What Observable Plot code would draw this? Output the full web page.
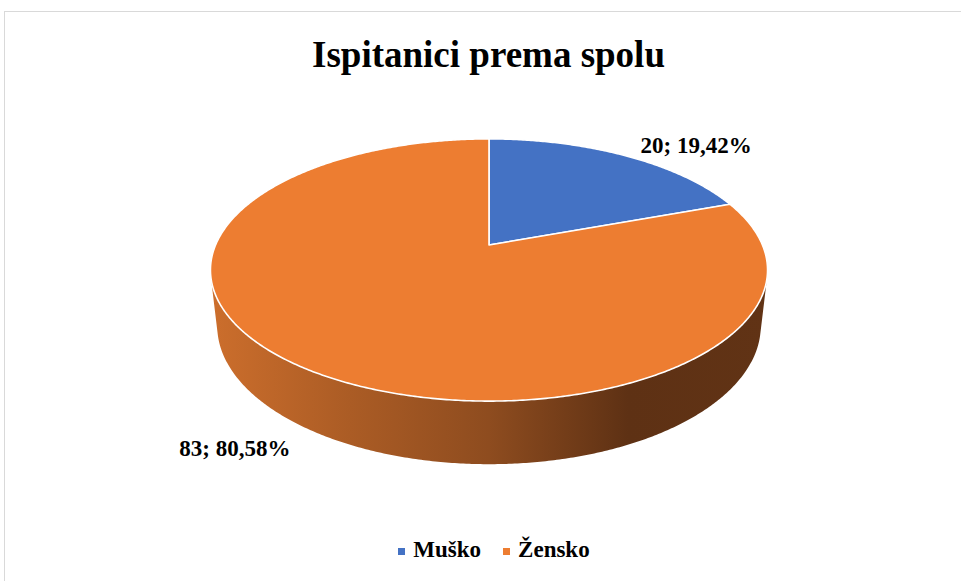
<!DOCTYPE html>
<html>
<head>
<meta charset="utf-8">
<script src="https://cdn.jsdelivr.net/npm/d3@7"></script>
<script src="https://cdn.jsdelivr.net/npm/@observablehq/plot@0.6"></script>
<style>
  body { margin: 0; background: #fff; font-family: "Liberation Serif", "Times New Roman", serif; }
  #wrap { position: relative; width: 961px; height: 581px; overflow: hidden; background: #fff; }
  #border { position: absolute; left: 4px; top: 11px; width: 1000px; height: 600px;
            border-left: 1.5px solid #d9d9d9; border-top: 1.5px solid #d9d9d9; box-sizing: border-box; }
  #chart { position: absolute; left: 0; top: 0; }
  #title { position: absolute; left: 0; width: 977px; top: 36px; text-align: center;
           font-weight: bold; font-size: 37px; line-height: 37px; color: #000; }
  #legend { position: absolute; left: 0; width: 988px; top: 538px; text-align: center;
            font-weight: bold; font-size: 23px; line-height: 23px; color: #000; }
  #legend .item { display: inline-block; margin: 0 11px; }
  #legend .sw { display: inline-block; width: 7px; height: 7px; margin-right: 8px; vertical-align: 2px; }
</style>
</head>
<body>
<div id="wrap">
  <div id="border"></div>
  <div id="chart"></div>
  <div id="title"></div>
  <div id="legend"></div>
</div>
<script>
// ---- data ----
const chartTitle = "Ispitanici prema spolu";
const categories = ["Muško", "Žensko"];
const counts = [20, 83];
const topColors = ["#4472C4", "#ED7D31"];
const sideLight = ["#4B7BD0", "#CC6E2C"];
const sideDark = ["#22385F", "#5E3114"];

// ---- view (3D perspective) ----
const view = {cx: 488.5, cy: 244.5, elev: 28 * Math.PI / 180, dist: 4.63, fx: 1266, fy: 1246, depth: 0.237};
const sE = Math.sin(view.elev), cE = Math.cos(view.elev);
function proj(phi, r, Y) {
  const X = r * Math.sin(phi), Z = r * Math.cos(phi);
  const w = view.dist + Z * cE - Y * sE;
  return [view.cx + view.fx * X / w, view.cy - view.fy * (Z * sE + Y * cE) / w];
}
// silhouette generators of the cylinder (tangent view rays)
const phiSil = Math.acos(-1 / (view.dist * cE));
const visA = phiSil, visB = 2 * Math.PI - phiSil;

const total = d3.sum(counts);
const arcs = d3.pie().sort(null)(counts);
const rows = arcs.map((a, i) => ({
  name: categories[i], value: counts[i],
  pct: (counts[i] / total * 100).toFixed(2).replace(".", ",") + "%",
  start: a.startAngle, end: a.endAngle, mid: (a.startAngle + a.endAngle) / 2, i
}));

// visible side faces, one per wedge (clipped to the front half)
const sides = [];
rows.forEach(r => {
  const a0 = Math.max(r.start, visA), a1 = Math.min(r.end, visB);
  if (a1 <= a0) return;
  const n = Math.max(2, Math.ceil((a1 - a0) / (Math.PI / 360)));
  const ring = [];
  for (let k = 0; k <= n; k++) ring.push(proj(a0 + (a1 - a0) * k / n, 1, 0));
  for (let k = n; k >= 0; k--) ring.push(proj(a0 + (a1 - a0) * k / n, 1, -view.depth));
  ring.push(ring[0]);
  sides.push({type: "Feature", properties: {fill: `url(#side${r.i})`}, geometry: {type: "Polygon", coordinates: [ring]}});
});

// top wedges
const wedges = rows.map(r => {
  const n = Math.max(2, Math.ceil((r.end - r.start) / (Math.PI / 360)));
  const ring = [[view.cx, view.cy]];
  for (let k = 0; k <= n; k++) ring.push(proj(r.start + (r.end - r.start) * k / n, 1, 0));
  ring.push([view.cx, view.cy]);
  return {type: "Feature", properties: {color: topColors[r.i]}, geometry: {type: "Polygon", coordinates: [ring]}};
});

// label anchors
const labels = rows.map(r => {
  const back = Math.cos(r.mid) >= 0;
  const p = back ? proj(r.mid, 1, 0) : proj(r.mid, 1, -view.depth);
  return {x: p[0], y: p[1], back, text: `${r.value}; ${r.pct}`};
});

const font = {fontFamily: "Liberation Serif, Times New Roman, serif", fontWeight: "bold", fontSize: 23, fill: "#000"};

const plot = Plot.plot({
  width: 961, height: 581, margin: 0,
  projection: "identity",
  color: {type: "identity"},
  marks: [
    Plot.geo(sides, {fill: d => d.properties.fill}),
    Plot.geo(wedges, {fill: d => d.properties.color, stroke: "#fff", strokeWidth: 1.6, strokeLinejoin: "round"}),
    Plot.text(labels.filter(d => d.back), {x: "x", y: "y", text: "text", textAnchor: "start", dx: 16, dy: -10, ...font}),
    Plot.text(labels.filter(d => !d.back), {x: "x", y: "y", text: "text", textAnchor: "end", dx: -18, dy: 19, ...font})
  ]
});
plot.style.background = "transparent";

// horizontal shading gradients for the side faces
const left = proj(visA, 1, 0)[0], right = proj(visB, 1, 0)[0];
const defs = d3.select(plot).insert("defs", ":first-child");
rows.forEach(r => {
  const mix = d3.interpolateRgb(sideLight[r.i], sideDark[r.i]);
  const g = defs.append("linearGradient").attr("id", `side${r.i}`)
    .attr("gradientUnits", "userSpaceOnUse")
    .attr("x1", Math.min(left, right)).attr("x2", Math.max(left, right)).attr("y1", 0).attr("y2", 0);
  [[0, 0], [0.25, 0.3], [0.5, 0.56], [0.75, 1], [1, 0.97]].forEach(([o, t]) =>
    g.append("stop").attr("offset", o).attr("stop-color", mix(t)));
});

document.getElementById("chart").appendChild(plot);
document.getElementById("title").textContent = chartTitle;

const legend = document.getElementById("legend");
categories.forEach((c, i) => {
  const item = document.createElement("span");
  item.className = "item";
  const sw = document.createElement("span");
  sw.className = "sw";
  sw.style.background = topColors[i];
  item.appendChild(sw);
  item.appendChild(document.createTextNode(c));
  legend.appendChild(item);
});
</script>
</body>
</html>
